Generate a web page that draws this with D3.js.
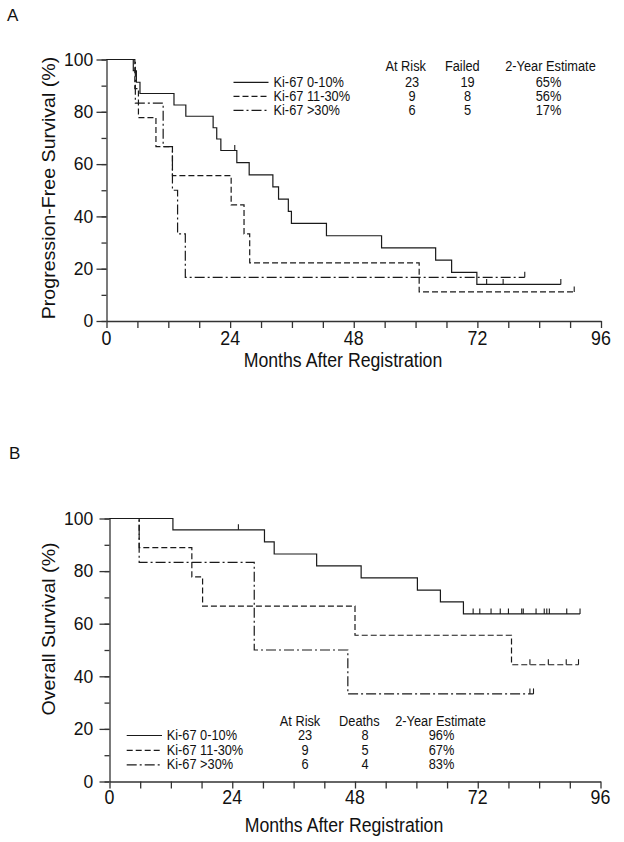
<!DOCTYPE html>
<html><head><meta charset="utf-8">
<script src="https://cdn.jsdelivr.net/npm/d3@7"></script>
<style>
body{margin:0;background:#fff}
svg{display:block}
text{font-family:"Liberation Sans",Arial,sans-serif;fill:#111}
</style>
</head><body>
<svg id="c" width="624" height="842"></svg>
<script>
// ---------- data ----------
const groupNames = ["Ki-67 0-10%", "Ki-67 11-30%", "Ki-67 >30%"];
const xTickLabels = [0, 24, 48, 72, 96];
const yTickLabels = [0, 20, 40, 60, 80, 100];

// Panel A: progression-free survival (step times in months, survival % after step)
const pfsLowT   = [0, 5.2, 5.8, 6.5, 13.1, 15.4, 20.7, 21.4, 22.2, 25.3, 27.7, 32.3, 33.4, 35.3, 35.9, 42.7, 53.4, 63.9, 67.0, 71.9, 88.2];
const pfsLowS   = [100, 95.7, 91.3, 87.0, 82.6, 78.3, 73.9, 69.6, 65.2, 60.6, 55.9, 51.3, 46.6, 41.9, 37.3, 32.6, 28.0, 23.3, 18.6, 14.0, 14.0];
const pfsLowCens = [24.9, 73.8, 77.0, 88.2];
const pfsMidT   = [0, 5.5, 6.2, 9.6, 12.8, 24.2, 26.7, 27.8, 60.7, 90.8];
const pfsMidS   = [100, 88.9, 77.8, 66.7, 55.6, 44.4, 33.3, 22.2, 11.1, 11.1];
const pfsMidCens = [90.8];
const pfsHighT  = [0, 5.6, 11.0, 12.8, 13.8, 15.3, 81.2];
const pfsHighS  = [100, 83.3, 66.7, 50.0, 33.3, 16.7, 16.7];
const pfsHighCens = [81.2];
const pfsHeaders = ["At Risk", "Failed", "2-Year Estimate"];
const pfsAtRisk = [23, 9, 6];
const pfsFailed = [19, 8, 5];
const pfsEst    = ["65%", "56%", "17%"];

// Panel B: overall survival
const osLowT   = [0, 12.4, 30.3, 32.2, 40.5, 49.2, 60.2, 64.7, 69.2, 92.0];
const osLowS   = [100, 95.7, 91.1, 86.5, 82.0, 77.4, 72.8, 68.3, 63.7, 63.7];
const osLowCens = [25.2, 71.1, 72.4, 74.6, 76.4, 78.0, 80.6, 80.9, 83.4, 85.0, 85.5, 86.0, 89.4, 92.0];
const osMidT   = [0, 5.8, 16.1, 18.2, 48.0, 78.6, 91.7];
const osMidS   = [100, 88.9, 77.8, 66.7, 55.6, 44.4, 44.4];
const osMidCens = [82.2, 85.8, 89.3, 91.7];
const osHighT  = [0, 5.8, 28.3, 46.6, 82.9];
const osHighS  = [100, 83.3, 50.0, 33.3, 33.3];
const osHighCens = [82.2, 82.9];
const osHeaders = ["At Risk", "Deaths", "2-Year Estimate"];
const osAtRisk = [23, 9, 6];
const osDeaths = [8, 5, 4];
const osEst    = ["96%", "67%", "83%"];

// ---------- drawing ----------
const svg = d3.select("#c");
const ST = 1.09; // vertical text stretch of the reference
const dashes = [null, "6,3", "10,3,2,3"];
const ink = "#1a1a1a";

function txt(g, x, y, s, size, anchor, rot) {
  return g.append("text")
    .attr("transform", rot ? `translate(${x},${y}) rotate(-90) scale(${ST},1)` : `translate(${x},${y}) scale(1,${ST})`)
    .attr("font-size", size)
    .attr("text-anchor", anchor || "start")
    .text(s);
}

function panel(cfg) {
  const g = svg.append("g");
  const x = d3.scaleLinear().domain([0, 96]).range([cfg.x0, cfg.x1]);
  const y = d3.scaleLinear().domain([0, 100]).range([cfg.y0, cfg.y1]);

  // axes
  const xa = g.append("g").attr("transform", `translate(0,${cfg.y0})`)
    .call(d3.axisBottom(x).tickValues(d3.range(0, 97, 6)).tickSize(7).tickSizeOuter(0).tickFormat(""));
  const ya = g.append("g").attr("transform", `translate(${cfg.x0},0)`)
    .call(d3.axisLeft(y).tickValues(d3.range(0, 101, 10)).tickSize(5).tickSizeOuter(0).tickFormat(""));
  const ya2 = g.append("g").attr("transform", `translate(${cfg.x0},0)`)
    .call(d3.axisLeft(y).tickValues(yTickLabels).tickSize(10).tickSizeOuter(0).tickFormat(""));
  ya2.select(".domain").remove();
  [xa, ya, ya2].forEach(a => {
    a.selectAll("path,line").attr("stroke", "#333").attr("stroke-width", 1.3);
  });

  // tick labels
  xTickLabels.forEach(v => txt(g, x(v), cfg.xLabY, v, 17.8, "middle"));
  yTickLabels.forEach(v => txt(g, 93.3, y(v) + 6.3, v, 17.5, "end"));

  // titles
  txt(g, cfg.xTitleX, cfg.xTitleY, "Months After Registration", 17.7, "middle");
  txt(g, 55, cfg.yTitleY, cfg.yTitle, 18, "middle", true);
  g.append("text").attr("x", cfg.panelX).attr("y", cfg.panelY)
    .attr("font-family", "'Open Sans',sans-serif").attr("font-size", 17).attr("fill", "#222")
    .text(cfg.panel);

  // curves
  const line = d3.line().x(d => x(d.t)).y(d => y(d.s)).curve(d3.curveStepAfter);
  cfg.series.forEach((se, i) => {
    const pts = se.t.map((t, k) => ({ t: t, s: se.s[k] }));
    g.append("path").datum(pts).attr("d", line)
      .attr("fill", "none").attr("stroke", ink).attr("stroke-width", 1.2)
      .attr("stroke-dasharray", dashes[i]);
    se.c.forEach(c => {
      let s = se.s[0];
      se.t.forEach((t, k) => { if (t <= c) s = se.s[k]; });
      g.append("line").attr("x1", x(c)).attr("x2", x(c))
        .attr("y1", y(s)).attr("y2", y(s) - 5.5)
        .attr("stroke", ink).attr("stroke-width", 1.1);
    });
  });

  // legend
  const L = cfg.legend;
  L.rows.forEach((ry, i) => {
    g.append("line").attr("x1", L.lx0).attr("x2", L.lx1).attr("y1", ry).attr("y2", ry)
      .attr("stroke", ink).attr("stroke-width", 1.2).attr("stroke-dasharray", dashes[i]);
    txt(g, L.tx, ry + 4.6, groupNames[i], 12.8, "start");
    L.cols.forEach((cx, j) => txt(g, cx, ry + 4.6, L.values[j][i], 12.8, "middle"));
  });
  L.headers.forEach((h, j) => txt(g, L.hcols[j], L.hy, h, 12.8, "middle"));
}

panel({
  x0: 106.5, x1: 601, y0: 321, y1: 59.5,
  xLabY: 344.7, xTitleX: 343, xTitleY: 366.5,
  yTitle: "Progression-Free Survival (%)", yTitleY: 188,
  panel: "A", panelX: 7, panelY: 21,
  series: [
    { t: pfsLowT, s: pfsLowS, c: pfsLowCens },
    { t: pfsMidT, s: pfsMidS, c: pfsMidCens },
    { t: pfsHighT, s: pfsHighS, c: pfsHighCens }
  ],
  legend: {
    lx0: 233.5, lx1: 268.5, tx: 273.5, rows: [82.3, 96.3, 110.3],
    cols: [412, 467.5, 548.5], values: [pfsAtRisk, pfsFailed, pfsEst],
    headers: pfsHeaders, hcols: [405.7, 462.3, 550.5], hy: 71.3
  }
});

panel({
  x0: 109.5, x1: 600.5, y0: 781.5, y1: 518.5,
  xLabY: 804, xTitleX: 344, xTitleY: 831.5,
  yTitle: "Overall Survival (%)", yTitleY: 629,
  panel: "B", panelX: 9, panelY: 459,
  series: [
    { t: osLowT, s: osLowS, c: osLowCens },
    { t: osMidT, s: osMidS, c: osMidCens },
    { t: osHighT, s: osHighS, c: osHighCens }
  ],
  legend: {
    lx0: 126.7, lx1: 162, tx: 166.7, rows: [735.5, 750.3, 764.8],
    cols: [305, 365, 441.5], values: [osAtRisk, osDeaths, osEst],
    headers: osHeaders, hcols: [300, 359.3, 440.5], hy: 726
  }
});
</script>
</body></html>
